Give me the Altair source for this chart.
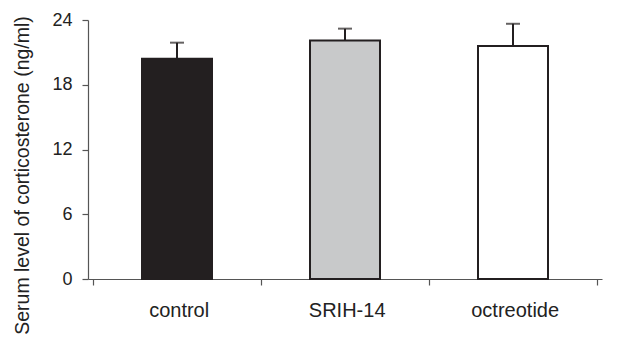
import altair as alt
import pandas as pd

categories = ["control", "SRIH-14", "octreotide"]
means = [20.4, 22.1, 21.6]
errors = [1.5, 1.1, 2.05]
fills = ["#231f20", "#c8c9ca", "#ffffff"]
y_ticks = [0, 6, 12, 18, 24]

df = pd.DataFrame({
    "cat": categories,
    "pos": [i + 0.5 for i in range(len(categories))],
    "mean": means,
    "top": [m + e for m, e in zip(means, errors)],
    "fill": fills,
})

W, H = 514, 259
FONT = "Liberation Sans"
label_expr = "datum.value == 0 ? 'control' : datum.value == 1 ? 'SRIH-14' : datum.value == 2 ? 'octreotide' : ''"

x = alt.X("pos:Q", scale=alt.Scale(domain=[0, 3], nice=False, zero=False),
          axis=alt.Axis(values=[0, 1, 2, 3], title=None, grid=False,
                        labelExpr=label_expr, labelOffset=W / 6,
                        labelOverlap=False, labelFlush=False, labelBound=False,
                        tickSize=6, labelPadding=31, labelBaseline="alphabetic",
                        labelFontSize=20,
                        labelFont=FONT, labelColor="#222", domainColor="#555",
                        tickColor="#555", domainWidth=1.2, tickWidth=1.2))
y = alt.Y("mean:Q", scale=alt.Scale(domain=[0, 24], nice=False),
          axis=alt.Axis(values=y_ticks, title="Serum level of corticosterone (ng/ml)",
                        grid=False, tickSize=6, labelPadding=10, labelFontSize=18,
                        labelFont=FONT, labelColor="#222", titleFont=FONT,
                        titleFontSize=19.5, titleFontWeight="normal", titleColor="#222",
                        titleAngle=270, titleX=-60, titleY=155, titleAlign="center",
                        titleBaseline="alphabetic",
                        domainColor="#555", tickColor="#555", domainWidth=1.2, tickWidth=1.2))

bars = alt.Chart(df).mark_bar(size=70, stroke="#231f20", strokeWidth=2).encode(
    x=x, y=y, fill=alt.Fill("fill:N", scale=None))

err = alt.Chart(df).mark_rule(color="#231f20", strokeWidth=2).encode(
    x="pos:Q", y="mean:Q", y2="top:Q")

caps = alt.Chart(df).mark_tick(color="#231f20", thickness=2, size=14, orient="horizontal").encode(
    x="pos:Q", y="top:Q")

chart = alt.layer(err, bars, caps).properties(
    width=W, height=H,
    autosize=alt.AutoSizeParams(type="none"),
    padding={"left": 80, "top": 12, "right": 12, "bottom": 63},
).configure_view(stroke=None)

chart.save("out.html", embed_options={"renderer": "svg", "actions": False})
